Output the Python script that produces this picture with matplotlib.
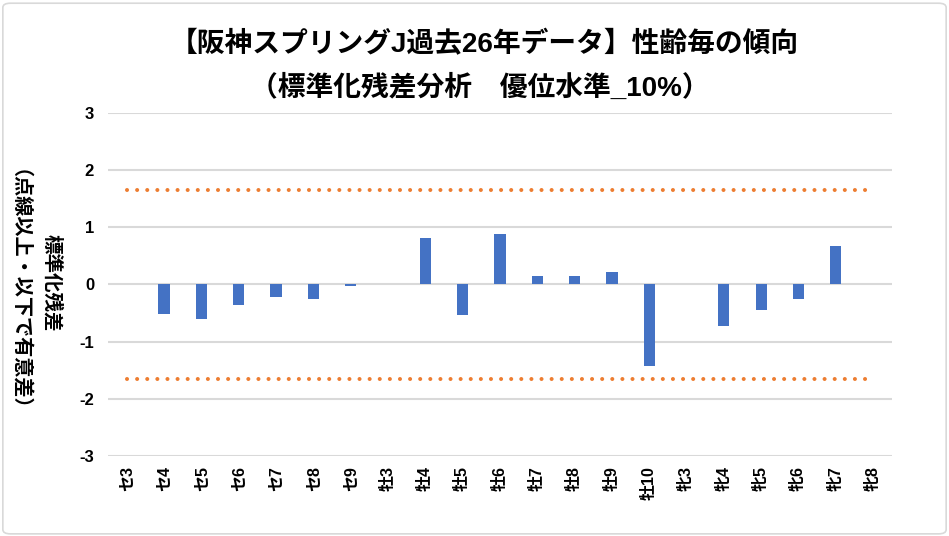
import matplotlib
matplotlib.use("Agg")
import matplotlib.pyplot as plt
from matplotlib.patches import FancyBboxPatch

# Fonts: Arial-like for latin/digits, Noto CJK for Japanese
FONTS = ['Liberation Sans', 'Noto Sans CJK JP', 'DejaVu Sans']
plt.rcParams['font.family'] = FONTS

# Categories (sex + age) and standardized residuals
categories = ["セ3", "セ4", "セ5", "セ6", "セ7", "セ8", "セ9",
              "牡3", "牡4", "牡5", "牡6", "牡7", "牡8", "牡9", "牡10",
              "牝3", "牝4", "牝5", "牝6", "牝7", "牝8"]
residuals = [0, -0.51, -0.60, -0.36, -0.22, -0.25, -0.03,
             0, 0.82, -0.53, 0.89, 0.15, 0.15, 0.21, -1.43,
             0, -0.72, -0.44, -0.25, 0.68, 0]

# Significance threshold (10% two-sided)
upper = [1.645] * len(categories)
lower = [-1.645] * len(categories)

yticks = [3, 2, 1, 0, -1, -2, -3]

fig = plt.figure(figsize=(9.49, 5.36), dpi=100)
ax = fig.add_axes([0.1138, 0.1493, 0.826, 0.640])

x = list(range(len(categories)))

# Gridlines behind everything
for t in yticks:
    ax.axhline(t, color="#D9D9D9", lw=1.5, zorder=0)

ax.bar(x, residuals, width=0.30, color="#4472C4", zorder=2)

# Orange dotted threshold lines (round dots)
for line in (upper, lower):
    ax.plot(x, line, color="#ED7D31", lw=2.9, linestyle=(0, (0.01, 2.5)),
            dash_capstyle="round", solid_capstyle="round", zorder=3)

ax.set_xlim(-0.5, len(categories) - 0.5)
ax.set_ylim(-3, 3)
ax.set_yticks(yticks)
ax.set_yticklabels([str(t) for t in yticks], fontsize=12, fontweight="bold")
ax.set_xticks(x)
ax.set_xticklabels(categories, rotation=90, fontsize=11.5, fontweight="bold",
                   va="top", ha="center")
ax.tick_params(axis="y", length=0, pad=10)
ax.tick_params(axis="x", length=0, pad=7)
for s in ax.spines.values():
    s.set_visible(False)

# Two-line y label, reading top to bottom (CJK font only)
cjk = ['Noto Sans CJK JP']
fig.text(0.055, 0.472, "標準化残差", rotation=-90, rotation_mode="anchor",
         fontsize=14, fontweight="bold", ha="center", va="center",
         family=cjk)
fig.text(0.010, 0.44, "（点線以上・以下で有意差）", rotation=-90,
         rotation_mode="anchor", fontsize=14.5, fontweight="bold",
         ha="center", va="center", family=cjk)

# Title
fig.text(0.51, 0.916, "【阪神スプリングJ過去26年データ】性齢毎の傾向",
         fontsize=20, fontweight="bold", ha="center", va="center")
fig.text(0.506, 0.836, "（標準化残差分析　優位水準_10%）",
         fontsize=20, fontweight="bold", ha="center", va="center")

# Chart border
border = FancyBboxPatch((0.003, 0.004), 0.994, 0.99,
                        boxstyle="round,pad=0,rounding_size=0.008",
                        transform=fig.transFigure, fill=False,
                        edgecolor="#D9D9D9", lw=1.2)
fig.patches.append(border)

fig.savefig("out.png", dpi=100)
